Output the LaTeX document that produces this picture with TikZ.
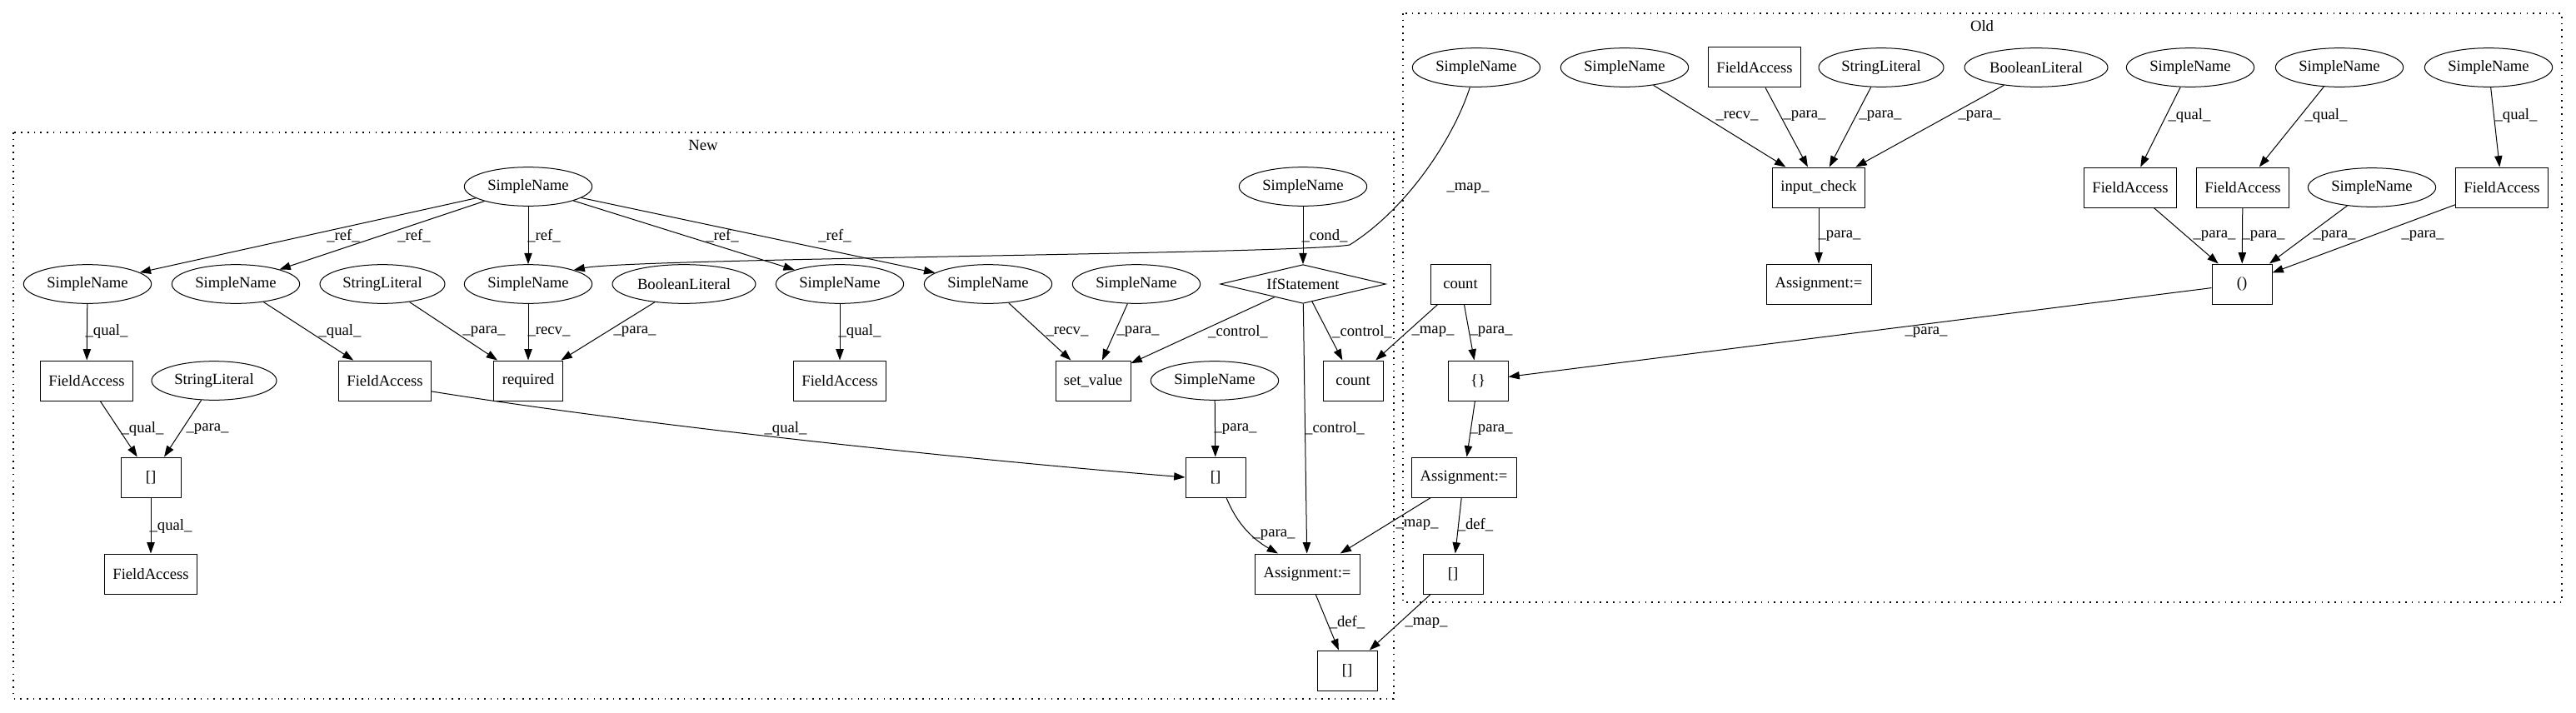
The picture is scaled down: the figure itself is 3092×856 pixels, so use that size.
\documentclass[tikz,border=0pt]{standalone}
\usepackage{fontspec}
\setmainfont{Liberation Serif}
\usetikzlibrary{shapes.geometric,arrows.meta}
\begin{document}
\begin{tikzpicture}[x=0.75pt,y=-0.75pt,
  every node/.style={font=\fontsize{14pt}{16pt}\selectfont},
  ell/.style={ellipse,draw,line width=0.75pt,inner sep=0pt,minimum height=35pt,minimum width=#1},
  ell/.default=115pt,
  rbox/.style={rectangle,draw,line width=0.75pt,inner sep=0pt,minimum height=36pt,minimum width=#1},
  rbox/.default=83pt,
  dmd/.style={diamond,draw,line width=0.75pt,inner sep=0pt,aspect=4.25,minimum width=149pt,minimum height=35pt},
  conn/.style={draw,line width=0.75pt,-{Triangle[length=10pt,width=7pt]}},
  lbl/.style={inner sep=0pt},
  clus/.style={draw,line width=1.2pt,dash pattern=on 1.2pt off 4.6pt}]
\useasboundingbox (0,0) rectangle (3092,856);
% clusters
\draw[clus] (16,159) rectangle (1673,839);
\node[lbl] (newlbl) at (844,174) {New};
\draw[clus] (1684,16) rectangle (3075,723);
\node[lbl] (oldlbl) at (2379,31) {Old};
% ---------------- New nodes
\node[ell] (sn0) at (634,224) {SimpleName};
\node[ell] (sncond) at (1564,224) {SimpleName};
\node[ell] (snA) at (105,341) {SimpleName};
\node[ell] (snB) at (283,341) {SimpleName};
\node[ell=112.5pt] (sl1) at (459,341) {StringLiteral};
\node[ell] (snC) at (634,341) {SimpleName};
\node[ell=129pt] (bl1) at (821,341) {BooleanLiteral};
\node[ell] (snD) at (1008,341) {SimpleName};
\node[ell] (snE) at (1186,341) {SimpleName};
\node[ell] (snF) at (1364,341) {SimpleName};
\node[dmd] (ifs) at (1564,341) {IfStatement};
\node[rbox] (fa1) at (104,457) {FieldAccess};
\node[ell=112.5pt] (sl2) at (257,457) {StringLiteral};
\node[rbox] (fa2) at (462,457) {FieldAccess};
\node[rbox=62pt] (req) at (634,457) {required};
\node[rbox] (fa3) at (1008,457) {FieldAccess};
\node[rbox=67.5pt] (setv) at (1312,457) {set\_value};
\node[ell] (snG) at (1458,457) {SimpleName};
\node[rbox=54pt] (cntN) at (1624,457) {count};
\node[rbox=54pt] (b1) at (181,573) {[]};
\node[rbox=54pt] (b2) at (1459,573) {[]};
\node[rbox] (fa4) at (181,689) {FieldAccess};
\node[rbox=94.5pt] (asgN) at (1569,689) {Assignment:=};
\node[rbox=54pt] (b3) at (1617,805) {[]};
% ---------------- Old nodes
\node[ell] (o1) at (1772,81) {SimpleName};
\node[ell] (o2) at (1950,81) {SimpleName};
\node[rbox] (ofa) at (2106,81) {FieldAccess};
\node[ell=112.5pt] (osl) at (2258,81) {StringLiteral};
\node[ell=129pt] (obl) at (2444,81) {BooleanLiteral};
\node[ell] (o3) at (2629,81) {SimpleName};
\node[ell] (o4) at (2808,81) {SimpleName};
\node[ell] (o5) at (2987,81) {SimpleName};
\node[rbox] (ic) at (2183,225) {input\_check};
\node[rbox] (ofaA) at (2557,225) {FieldAccess};
\node[rbox] (ofaB) at (2692,225) {FieldAccess};
\node[ell] (o6) at (2847,225) {SimpleName};
\node[rbox] (ofaC) at (3003,225) {FieldAccess};
\node[rbox=54pt] (cntO) at (1753,341) {count};
\node[rbox=94.5pt] (asgO1) at (2183,341) {Assignment:=};
\node[rbox=54pt] (par) at (2691,341) {()};
\node[rbox=54pt] (brc) at (1774,457) {\{\}};
\node[rbox=94.5pt] (asgO2) at (1757,573) {Assignment:=};
\node[rbox=54pt] (bO) at (1744,689) {[]};
% ---------------- New edges
\draw[conn] (sn0) -- (snA) node[lbl] at (412,283) {\_ref\_};
\draw[conn] (sn0) -- (snB) node[lbl] at (497,283) {\_ref\_};
\draw[conn] (sn0) -- (snC) node[lbl] at (653,283) {\_ref\_};
\draw[conn] (sn0) -- (snD) node[lbl] at (867,283) {\_ref\_};
\draw[conn] (sn0) -- (snE) node[lbl] at (1002,283) {\_ref\_};
\draw[conn] (snA) -- (fa1) node[lbl] at (128,398) {\_qual\_};
\draw[conn] (snB) -- (fa2) node[lbl] at (408,398) {\_qual\_};
\draw[conn] (sl1) -- (req) node[lbl] at (581,398) {\_para\_};
\draw[conn] (snC) -- (req) node[lbl] at (659,398) {\_recv\_};
\draw[conn] (bl1) -- (req) node[lbl] at (762,398) {\_para\_};
\draw[conn] (snD) -- (fa3) node[lbl] at (1032,398) {\_qual\_};
\draw[conn] (snE) -- (setv) node[lbl] at (1281,398) {\_recv\_};
\draw[conn] (snF) -- (setv) node[lbl] at (1366,398) {\_para\_};
\draw[conn] (ifs) -- (setv) node[lbl] at (1486,398) {\_control\_};
\draw[conn] (ifs) -- (cntN) node[lbl] at (1635,398) {\_control\_};
\draw[conn] (ifs) -- (asgN) node[lbl] at (1602,514) {\_control\_};
\draw[conn] (sncond) -- (ifs) node[lbl] at (1590,283) {\_cond\_};
\draw[conn] (fa1) -- (b1) node[lbl] at (171,515) {\_qual\_};
\draw[conn] (sl2) -- (b1) node[lbl] at (249,515) {\_para\_};
\draw[conn] (b1) -- (fa4) node[lbl] at (205,632) {\_qual\_};
\draw[conn] (fa2.-13) .. controls (800,515) and (1200,555) .. (b2.west) node[lbl] at (943,515) {\_qual\_};
\draw[conn] (snG) -- (b2) node[lbl] at (1483,515) {\_para\_};
\draw[conn] (b2.-62) .. controls (1485,630) and (1505,648) .. (asgN.145) node[lbl] at (1529,642) {\_para\_};
\draw[conn] (asgN) -- (b3) node[lbl] at (1617,747) {\_def\_};
% ---------------- cross edges
\draw[conn] (o1) .. controls (1745,165) and (1690,250) .. (1620,294) .. controls (1560,305) and (760,310) .. (snC.north east) node[lbl] at (1762,226) {\_map\_};
\draw[conn] (cntO) -- (cntN) node[lbl] at (1720,398) {\_map\_};
\draw[conn] (asgO2) -- (asgN) node[lbl] at (1701,630) {\_map\_};
\draw[conn] (bO) -- (b3) node[lbl] at (1712,748) {\_map\_};
% ---------------- Old edges
\draw[conn] (cntO) -- (brc) node[lbl] at (1790,398) {\_para\_};
\draw[conn] (par) -- (brc) node[lbl] at (2312,399) {\_para\_};
\draw[conn] (brc) -- (asgO2) node[lbl] at (1790,516) {\_para\_};
\draw[conn] (asgO2) -- (bO) node[lbl] at (1771,630) {\_def\_};
\draw[conn] (o2) -- (ic) node[lbl] at (2085,139) {\_recv\_};
\draw[conn] (ofa) -- (ic) node[lbl] at (2166,139) {\_para\_};
\draw[conn] (osl) -- (ic) node[lbl] at (2257,139) {\_para\_};
\draw[conn] (obl) -- (ic) node[lbl] at (2376,139) {\_para\_};
\draw[conn] (ic) -- (asgO1) node[lbl] at (2208,283) {\_para\_};
\draw[conn] (o3) -- (ofaA) node[lbl] at (2628,139) {\_qual\_};
\draw[conn] (o4) -- (ofaB) node[lbl] at (2792,139) {\_qual\_};
\draw[conn] (o5) -- (ofaC) node[lbl] at (3020,139) {\_qual\_};
\draw[conn] (ofaA) -- (par) node[lbl] at (2658,283) {\_para\_};
\draw[conn] (ofaB) -- (par) node[lbl] at (2717,283) {\_para\_};
\draw[conn] (o6) -- (par) node[lbl] at (2802,283) {\_para\_};
\draw[conn] (ofaC) -- (par) node[lbl] at (2908,283) {\_para\_};
\end{tikzpicture}
\end{document}
